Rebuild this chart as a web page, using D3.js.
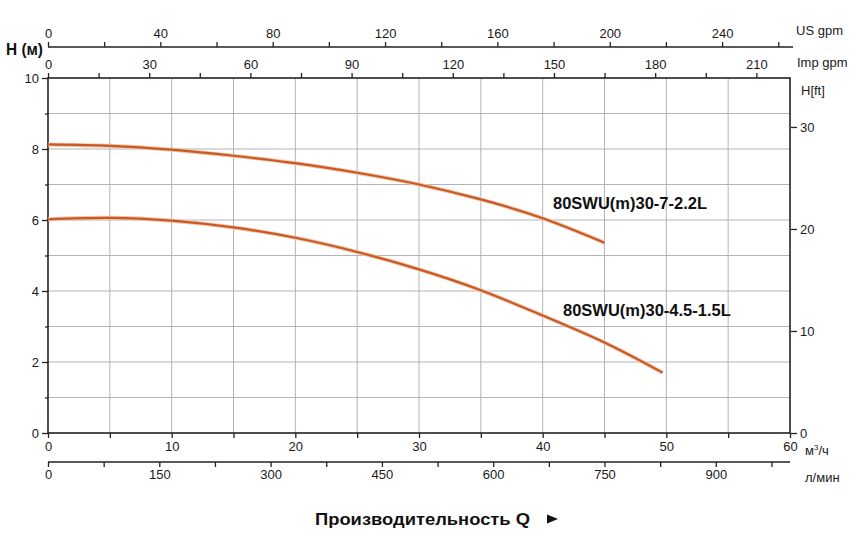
<!DOCTYPE html>
<html><head><meta charset="utf-8">
<script src="https://cdn.jsdelivr.net/npm/d3@7"></script>
<style>
html,body{margin:0;padding:0;background:#fff;}
svg{display:block;font-family:"Liberation Sans",Arial,sans-serif;}
</style></head>
<body><svg id="c" width="856" height="540"></svg>
<script>
// Data
const flowQ1 = [0, 5, 10, 15, 20, 25, 30, 35, 40, 45];
const head1  = [8.13, 8.09, 7.98, 7.81, 7.60, 7.33, 7.00, 6.58, 6.05, 5.36];
const flowQ2 = [0, 5, 10, 15, 20, 25, 30, 35, 40, 45, 49.7];
const head2  = [6.02, 6.06, 5.98, 5.79, 5.50, 5.10, 4.61, 4.02, 3.31, 2.55, 1.70];
const seriesNames = ["80SWU(m)30-7-2.2L", "80SWU(m)30-4.5-1.5L"];
const headTicks = [0, 2, 4, 6, 8, 10];
const m3hTicks = [0, 10, 20, 30, 40, 50, 60];
const lminTicks = [0, 150, 300, 450, 600, 750, 900];
const usgpmTicks = [0, 40, 80, 120, 160, 200, 240];
const impgpmTicks = [0, 30, 60, 90, 120, 150, 180, 210];
const ftTicks = [0, 10, 20, 30];

const svg = d3.select("#c");
const L = 48, R = 790, T = 78, B = 433;
const x = d3.scaleLinear([0, 60], [L, R]);
const y = d3.scaleLinear([0, 10], [B, T]);
const xUS = d3.scaleLinear([0, 60 * 4.4029], [L, R]);
const xImp = d3.scaleLinear([0, 60 * 3.6662], [L, R]);
const xL = d3.scaleLinear([0, 1000], [L, R]);
const yFt = d3.scaleLinear([0, 34.8], [B, T]);

const tc = "#1a1a1a";
const fs = 13;

// grid
const g = svg.append("g").attr("stroke", "#b4b4b4").attr("stroke-width", 1);
d3.range(5, 60, 5).forEach(v => g.append("line").attr("x1", x(v)).attr("x2", x(v)).attr("y1", T).attr("y2", B));
d3.range(1, 10, 1).forEach(v => g.append("line").attr("x1", L).attr("x2", R).attr("y1", y(v)).attr("y2", y(v)));

// frame
const f = svg.append("g").attr("stroke", "#222").attr("stroke-width", 1.6).attr("fill", "none");
f.append("rect").attr("x", L).attr("y", T).attr("width", R - L).attr("height", B - T);

// left axis
const leftAx = svg.append("g").attr("transform", `translate(${L},0)`)
  .call(d3.axisLeft(y).tickValues(d3.range(0, 11, 1)).tickSize(6).tickFormat(d => headTicks.includes(d) ? d : ""));
leftAx.selectAll(".tick line").attr("x2", d => headTicks.includes(d) ? -6 : -3);

// bottom m3/h axis
const botAx = svg.append("g").attr("transform", `translate(0,${B})`)
  .call(d3.axisBottom(x).tickValues(d3.range(0, 61, 5)).tickSize(5).tickPadding(4).tickFormat(d => m3hTicks.includes(d) ? d : ""));

// l/min axis
const lAx = svg.append("g").attr("transform", `translate(0,462)`)
  .call(d3.axisBottom(xL).tickValues(d3.range(0, 1000, 75)).tickSize(5).tickPadding(3).tickFormat(d => lminTicks.includes(d) ? d : ""));
lAx.select(".domain").attr("d", `M${L},0H${R}`);

// top US gpm axis
const usAx = svg.append("g").attr("transform", `translate(0,47)`)
  .call(d3.axisTop(xUS).tickValues(d3.range(0, 261, 20)).tickSize(5).tickPadding(4).tickFormat(d => usgpmTicks.includes(d) ? d : ""));
usAx.select(".domain").attr("d", `M${L},0H793`);

// top Imp gpm axis
const impAx = svg.append("g").attr("transform", `translate(0,${T})`)
  .call(d3.axisTop(xImp).tickValues(d3.range(0, 211, 15)).tickSize(5).tickPadding(4).tickFormat(d => impgpmTicks.includes(d) ? d : ""));

// right ft axis
const ftAx = svg.append("g").attr("transform", `translate(${R + 1},0)`)
  .call(d3.axisRight(yFt).tickValues(ftTicks).tickSize(6).tickPadding(3));
ftAx.select(".domain").remove();

[leftAx, botAx, lAx, usAx, impAx, ftAx].forEach(a => {
  a.selectAll(".domain").attr("stroke", "#222").attr("stroke-width", 1.6);
  a.selectAll(".tick line").attr("stroke", "#222").attr("stroke-width", 1.3);
  a.selectAll("text").attr("fill", tc).style("font-size", fs + "px").style("font-family", '"Liberation Sans",Arial,sans-serif');
});
leftAx.select(".domain").remove();
botAx.select(".domain").remove();
impAx.select(".domain").remove();

// curves
const line = d3.line().x(d => x(d[0])).y(d => y(d[1])).curve(d3.curveNatural);
const d1 = flowQ1.map((q, i) => [q, head1[i]]);
const d2 = flowQ2.map((q, i) => [q, head2[i]]);
[d1, d2].forEach(d => {
  svg.append("path").attr("d", line(d)).attr("fill", "none").attr("stroke", "#f3c3a6").attr("stroke-width", 4.0);
  svg.append("path").attr("d", line(d)).attr("fill", "none").attr("stroke", "#c85a26").attr("stroke-width", 2.2);
});

// series labels
svg.append("text").attr("x", 553).attr("y", 208.5).attr("font-weight", "bold").attr("font-size", 16.5).attr("fill", "#111").text(seriesNames[0]);
svg.append("text").attr("x", 563).attr("y", 315.5).attr("font-weight", "bold").attr("font-size", 16.5).attr("fill", "#111").text(seriesNames[1]);

// unit labels
const unit = (tx, ty, t, size, anchor) => svg.append("text").attr("x", tx).attr("y", ty).attr("font-size", size || 13).attr("fill", tc).attr("text-anchor", anchor || "start").text(t);
unit(796, 35, "US gpm");
unit(797, 67, "Imp gpm");
unit(801, 95, "H[ft]");
const m3 = svg.append("text").attr("x", 805).attr("y", 455).attr("font-size", 13).attr("fill", tc);
m3.append("tspan").text("м");
m3.append("tspan").attr("font-size", 8).attr("dy", -5).text("3");
m3.append("tspan").attr("dy", 5).text("/ч");
unit(805, 482, "л/мин");
svg.append("text").attr("x", 6).attr("y", 55).attr("font-size", 17).attr("fill", "#111").attr("font-weight", "bold").attr("textLength", 37).attr("lengthAdjust", "spacingAndGlyphs").text("H (м)");
svg.append("text").attr("x", 315).attr("y", 524.5).attr("font-size", 17).attr("font-weight", "bold").attr("fill", "#111")
  .attr("textLength", 215).attr("lengthAdjust", "spacingAndGlyphs").text("Производительность Q");
svg.append("path").attr("d", "M547,514.5L558,519L547,523.5Z").attr("fill", "#111");
</script></body></html>
